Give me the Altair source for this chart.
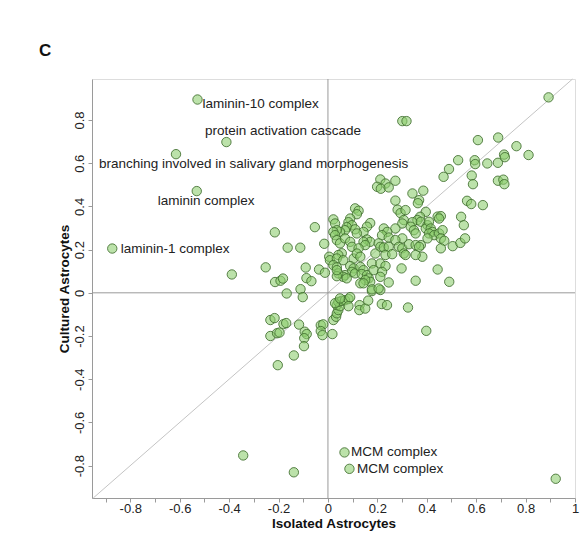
import altair as alt
import pandas as pd

# ---- data (Isolated, Cultured) ----
left_above = [(-0.389,0.085),(-0.252,0.118),(-0.215,0.280),(-0.214,0.050),(-0.192,0.056),(-0.182,0.066),
              (-0.167,-0.003),(-0.163,0.209),(-0.112,0.209),(-0.111,0.017),(-0.102,-0.020),(-0.090,0.117),
              (-0.087,0.068),(-0.067,0.054),(-0.053,0.304),(-0.036,0.108),(-0.012,0.093),(-0.015,0.227),
              (0.005,0.167),(0.008,0.151)]
left_below = [(-0.233,-0.126),(-0.216,-0.117),(-0.180,-0.145),(-0.169,-0.140),(-0.233,-0.200),(-0.206,-0.187),
              (-0.196,-0.184),(-0.117,-0.147),(-0.094,-0.180),(-0.086,-0.191),(-0.096,-0.210),(-0.097,-0.247),
              (-0.138,-0.290),(-0.203,-0.335),(-0.029,-0.150),(-0.019,-0.146),(-0.029,-0.177),(-0.022,-0.196),
              (0.018,-0.191)]
right_below = [(0.022,-0.126),(0.033,-0.111),(0.036,-0.095),(0.042,-0.080),(0.036,-0.057),(0.049,-0.062),
               (0.042,-0.042),(0.056,-0.037),(0.069,-0.034),(0.083,-0.029),(0.090,-0.020),(0.083,-0.062),
               (0.029,-0.048),(0.128,-0.057),(0.127,-0.080),(0.151,-0.073),(0.163,-0.036),(0.178,0.008),
               (0.212,0.013),(0.218,-0.052),(0.239,-0.057),(0.324,-0.068),(0.398,-0.176),(0.049,-0.026)]
outliers = [(0.922,-0.861),(-0.343,-0.753),(-0.138,-0.831),(0.893,0.905),(0.301,0.795),(0.318,0.795)]
upper_band = [(0.607,0.707),(0.689,0.719),(0.763,0.679),(0.812,0.638),(0.713,0.640),(0.716,0.628),
              (0.527,0.614),(0.594,0.614),(0.596,0.596),(0.645,0.599),(0.688,0.602),(0.490,0.573),
              (0.468,0.537),(0.582,0.543),(0.587,0.503),(0.688,0.519),(0.710,0.524),(0.714,0.503),
              (0.212,0.525),(0.233,0.506),(0.199,0.491),(0.214,0.482),(0.246,0.488),(0.273,0.519),
              (0.342,0.460),(0.386,0.473)]
mid_band = [(0.369,0.429),(0.364,0.415),(0.273,0.427),(0.563,0.426),(0.580,0.411),(0.627,0.406),
            (0.110,0.391),(0.124,0.380),(0.117,0.364),(0.282,0.385),(0.294,0.369),(0.314,0.383),
            (0.396,0.375),(0.373,0.352),(0.362,0.337),(0.444,0.353),(0.457,0.355),(0.450,0.344),
            (0.539,0.352),(0.550,0.313),(0.022,0.340),(0.090,0.344),(0.083,0.327),(0.097,0.313),
            (0.076,0.304),(0.069,0.290),(0.049,0.282),(0.029,0.321),(0.036,0.290),(0.022,0.282),
            (0.029,0.267),(0.171,0.323),(0.158,0.306),(0.144,0.282),(0.307,0.337),(0.301,0.321),
            (0.342,0.327),(0.335,0.306),(0.348,0.290),(0.355,0.275),(0.376,0.329),(0.403,0.313),
            (0.396,0.298),(0.409,0.329),(0.273,0.298),(0.110,0.294),(0.117,0.275),(0.226,0.298),
            (0.240,0.282)]
low_band = [(0.416,0.298),(0.423,0.282),(0.409,0.275),(0.430,0.267),(0.450,0.275),(0.464,0.290),
            (0.403,0.252),(0.457,0.252),(0.471,0.241),(0.457,0.206),(0.505,0.216),(0.536,0.231),
            (0.555,0.252),(0.376,0.221),(0.382,0.167),(0.219,0.267),(0.246,0.256),(0.158,0.247),
            (0.171,0.236),(0.144,0.236),(0.151,0.221),(0.205,0.229),(0.212,0.213),(0.226,0.210),
            (0.301,0.252),(0.273,0.244),(0.036,0.244),(0.049,0.229),(0.069,0.252),(0.090,0.236),
            (0.097,0.213),(0.056,0.183),(0.042,0.175),(0.036,0.159),(0.062,0.151),(0.124,0.206),
            (0.246,0.213),(0.287,0.213),(0.301,0.206),(0.328,0.225),(0.355,0.221),(0.369,0.213),
            (0.192,0.182),(0.233,0.175),(0.260,0.179),(0.307,0.182),(0.314,0.175),(0.355,0.175),
            (0.104,0.159),(0.117,0.182),(0.131,0.167)]
near_zero = [(0.022,0.128),(0.036,0.118),(0.090,0.124),(0.104,0.113),(0.097,0.097),(0.110,0.090),
             (0.131,0.120),(0.144,0.105),(0.137,0.087),(0.158,0.082),(0.165,0.067),(0.171,0.051),
             (0.151,0.059),(0.178,0.136),(0.212,0.136),(0.233,0.124),(0.185,0.105),(0.069,0.082),
             (0.062,0.074),(0.042,0.090),(0.036,0.077),(0.131,0.044),(0.144,0.044),(0.178,0.016),
             (0.205,0.020),(0.246,0.048),(0.298,0.113),(0.355,0.056),(0.444,0.108),(0.491,0.051),
             (0.076,0.067),(0.219,0.097),(0.212,0.074),(0.036,0.105)]

label_names = ["laminin-10 complex", "protein activation cascade",
               "branching involved in salivary gland morphogenesis", "laminin complex",
               "laminin-1 complex", "MCM complex", "MCM complex"]
label_iso = [-0.528, -0.411, -0.615, -0.531, -0.873, 0.067, 0.087]
label_cul = [0.895, 0.698, 0.642, 0.471, 0.205, -0.739, -0.815]

x_ticks = [-0.9, -0.8, -0.7, -0.6, -0.5, -0.4, -0.3, -0.2, -0.1, 0, 0.1, 0.2, 0.3, 0.4, 0.5,
           0.6, 0.7, 0.8, 0.9, 1]
y_ticks = [-0.8, -0.6, -0.4, -0.2, 0, 0.2, 0.4, 0.6, 0.8]
x_domain = [-0.955, 1.0]
y_domain = [-0.95, 0.99]
diag_ends = [-0.95, 0.99]

# ---- tables ----
cloud = left_above + left_below + right_below + outliers + upper_band + mid_band + low_band + near_zero
pts = pd.DataFrame(cloud, columns=["x", "y"])
lab = pd.DataFrame({"x": label_iso, "y": label_cul, "name": label_names, "i": list(range(len(label_names)))})
allpts = pd.concat([pts, lab[["x", "y"]]], ignore_index=True)
diag = pd.DataFrame({"x": [diag_ends[0]], "y": [diag_ends[0]], "x2": [diag_ends[1]], "y2": [diag_ends[1]]})
zero = pd.DataFrame({"x": [0], "y": [0]})

FONT = "Liberation Sans"
AX = "#9a9a9a"

xscale = alt.Scale(domain=x_domain, nice=False, zero=False)
yscale = alt.Scale(domain=y_domain, nice=False, zero=False)
xaxis = alt.Axis(values=x_ticks, title="Isolated Astrocytes",
                 labelExpr="abs(round(datum.value*10)) % 2 == 0 ? '' + datum.value : ''",
                 labelOverlap=False, labelFlush=False, grid=False, domainColor=AX, tickColor=AX,
                 tickSize=4, labelPadding=0, labelFontSize=13, labelColor="#222",
                 titleFontSize=13.5, titleFontWeight="bold", titleColor="#111", titlePadding=1)
yaxis = alt.Axis(values=y_ticks, title="Cultured Astrocytes",
                 labelExpr="'' + datum.value", labelAngle=-90, labelAlign="center",
                 labelBaseline="bottom", labelOverlap=False, labelFlush=False, grid=False,
                 domainColor=AX, tickColor=AX, tickSize=4, labelPadding=2, labelFontSize=13,
                 labelColor="#222", titleFontSize=13.5, titleFontWeight="bold", titleColor="#111",
                 titlePadding=2)

X = alt.X("x:Q", scale=xscale, axis=xaxis)
Y = alt.Y("y:Q", scale=yscale, axis=yaxis)

diag_rule = alt.Chart(diag).mark_rule(color="#c4c4c4", strokeWidth=1).encode(
    x=X, y=Y, x2="x2:Q", y2="y2:Q")
vzero = alt.Chart(zero).mark_rule(color=AX, strokeWidth=1).encode(x=X)
hzero = alt.Chart(zero).mark_rule(color=AX, strokeWidth=1).encode(y=Y)

points = alt.Chart(allpts).mark_circle(
    size=88, fill="#8ccd6c", fillOpacity=0.58, stroke="#3f6d2e", strokeWidth=1, strokeOpacity=0.85
).encode(x=X, y=Y)

offsets = [(5, 4.5), (-21.5, -11), (-77, 10), (-39, 10), (8.5, 0), (6.5, -0.5), (7.5, 0)]
text_layers = []
for i, (dx, dy) in enumerate(offsets):
    text_layers.append(
        alt.Chart(lab).transform_filter(alt.datum.i == i).mark_text(
            align="left", baseline="middle", dx=dx, dy=dy, fontSize=13.5, font=FONT, color="#222"
        ).encode(x=X, y=Y, text="name:N")
    )

panel = alt.Chart(pd.DataFrame({"t": ["C"]})).mark_text(
    align="left", baseline="alphabetic", fontSize=17, fontWeight="bold", font=FONT, color="#111"
).encode(text="t:N", x=alt.value(-53), y=alt.value(-23))

chart = alt.layer(diag_rule, vzero, hzero, points, *text_layers, panel).properties(
    width=483, height=419,
    autosize=alt.AutoSizeParams(type="none"),
    padding={"left": 92, "top": 79, "right": 7, "bottom": 35},
    background="white",
).configure_view(stroke=None).configure(font=FONT)

chart.save("out.html", embed_options={"renderer": "svg", "actions": False})
